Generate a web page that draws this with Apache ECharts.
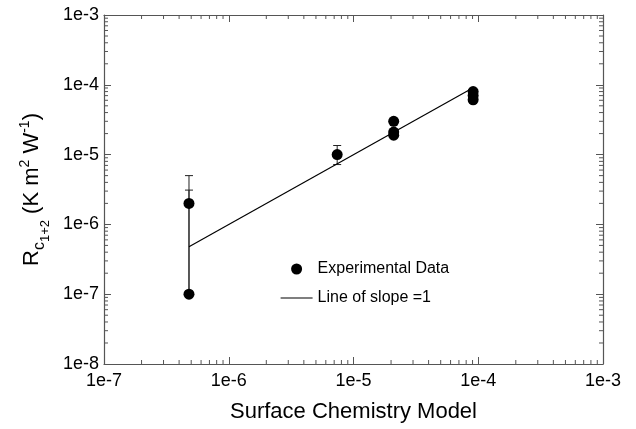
<!DOCTYPE html>
<html>
<head>
<meta charset="utf-8">
<script src="https://cdn.jsdelivr.net/npm/echarts@6/dist/echarts.min.js"></script>
<style>html,body{margin:0;padding:0;background:#fff;}#c{width:636px;height:429px;}</style>
</head>
<body>
<div id="c"></div>
<script>
// ---- data ----
const expX = [4.8e-7, 4.8e-7, 7.4e-6, 2.1e-5, 2.1e-5, 2.1e-5, 9.1e-5, 9.1e-5, 9.1e-5];
const expY = [2e-6, 1e-7, 1e-5, 3e-5, 2.1e-5, 1.9e-5, 8e-5, 7e-5, 6.1e-5];
const errX = [4.8e-7, 4.8e-7, 7.4e-6];
const errLow = [1e-7, 1e-7, 7.2e-6];
const errHigh = [5e-6, 3.1e-6, 1.35e-5];
const lineX = [4.8e-7, 9.1e-5];
const lineY = [4.8e-7, 9.1e-5];
const X_MIN = 1e-7, X_MAX = 1e-3, Y_MIN = 1e-8, Y_MAX = 1e-3;
const legendNames = ['Experimental Data', 'Line of slope =1'];

function minorTicks(lo, hi) {
  const out = [];
  for (let e = Math.round(Math.log10(lo)); e < Math.round(Math.log10(hi)); e++) {
    for (let m = 2; m <= 9; m++) out.push([m * Math.pow(10, e)]);
  }
  return out;
}
const FONT = '"Liberation Sans", Arial, sans-serif';
const AX = '#555';
const chart = echarts.init(document.getElementById('c'), null, {renderer: 'canvas'});
const fmt = v => '1e' + Math.round(Math.log10(v));
const baseAxis = {
  type: 'log', logBase: 10,
  axisLine: {show: true, lineStyle: {color: AX, width: 1.2}},
  axisTick: {show: true, inside: true, length: 7, lineStyle: {color: AX}},
  splitLine: {show: false},
  minorTick: {show: false}
};
const lw = 4;
chart.setOption({
  animation: false,
  backgroundColor: '#fff',
  grid: {left: 104, right: 33, top: 15, bottom: 65, containLabel: false},
  xAxis: [
    Object.assign({}, baseAxis, {
      min: X_MIN, max: X_MAX, position: 'bottom',
      axisLabel: {formatter: fmt, fontSize: 18, color: '#000', fontFamily: FONT, margin: 8},
      name: 'Surface Chemistry Model', nameLocation: 'middle', nameGap: 37,
      nameTextStyle: {fontSize: 22, color: '#000', fontFamily: FONT}
    }),
    Object.assign({}, baseAxis, {min: X_MIN, max: X_MAX, position: 'top', axisLabel: {show: false}})
  ],
  yAxis: [
    Object.assign({}, baseAxis, {
      min: Y_MIN, max: Y_MAX, position: 'left',
      axisLabel: {formatter: fmt, fontSize: 18, color: '#000', fontFamily: FONT, margin: 5},
      name: '{r|R}{c|c}{s|1+2}{n| (K m}{p|2}{n| W}{p|-1}{n|)}',
      nameLocation: 'middle', nameGap: 52,
      nameTextStyle: {
        color: '#000', fontFamily: FONT,
        rich: {
          r: {fontSize: 22, fontFamily: FONT, color: '#000', verticalAlign: 'bottom', padding: [0, 0, 9, 0]},
          n: {fontSize: 22, fontFamily: FONT, color: '#000', verticalAlign: 'bottom', padding: [0, 0, 9, 0]},
          c: {fontSize: 16, fontFamily: FONT, color: '#000', verticalAlign: 'bottom', padding: [0, 0, 4, 0]},
          s: {fontSize: 13, fontFamily: FONT, color: '#000', verticalAlign: 'bottom', padding: [0, 0, 0, 0]},
          p: {fontSize: 14, fontFamily: FONT, color: '#000', verticalAlign: 'bottom', padding: [0, 0, 20, 0]}
        }
      }
    }),
    Object.assign({}, baseAxis, {min: Y_MIN, max: Y_MAX, position: 'right', axisLabel: {show: false}})
  ],
  legend: {
    left: 275, top: 256, orient: 'vertical', itemGap: 13, itemWidth: 32, itemHeight: 11,
    textStyle: {fontSize: 16, color: '#000', fontFamily: FONT},
    data: [
      {name: legendNames[0], icon: 'circle'},
      {name: legendNames[1], itemStyle: {color: 'rgba(0,0,0,0)', borderColor: 'rgba(0,0,0,0)', borderWidth: 0},
       lineStyle: {color: '#000', width: 1.2}}
    ],
    selectedMode: false
  },
  series: [
    {
      type: 'custom', name: 'minorX', silent: true, z: 1,
      data: minorTicks(X_MIN, X_MAX),
      renderItem: (params, api) => {
        const v = api.value(0);
        const b = api.coord([v, Y_MIN]), t = api.coord([v, Y_MAX]);
        const st = {stroke: AX, lineWidth: 1};
        return {type: 'group', children: [
          {type: 'line', shape: {x1: b[0], y1: b[1], x2: b[0], y2: b[1] - lw}, style: st},
          {type: 'line', shape: {x1: t[0], y1: t[1], x2: t[0], y2: t[1] + lw}, style: st}
        ]};
      }
    },
    {
      type: 'custom', name: 'minorY', silent: true, z: 1,
      data: minorTicks(Y_MIN, Y_MAX),
      renderItem: (params, api) => {
        const v = api.value(0);
        const l = api.coord([X_MIN, v]), r = api.coord([X_MAX, v]);
        const st = {stroke: AX, lineWidth: 1};
        return {type: 'group', children: [
          {type: 'line', shape: {x1: l[0], y1: l[1], x2: l[0] + lw, y2: l[1]}, style: st},
          {type: 'line', shape: {x1: r[0], y1: r[1], x2: r[0] - lw, y2: r[1]}, style: st}
        ]};
      },
      encode: {x: -1, y: 0}
    },
    {
      type: 'custom', name: 'err', silent: true, z: 2,
      data: errX.map((x, i) => [x, errLow[i], errHigh[i]]),
      renderItem: (params, api) => {
        const x = api.value(0);
        const lo = api.coord([x, api.value(1)]), hi = api.coord([x, api.value(2)]);
        const st = {stroke: '#222', lineWidth: 1};
        const cw = 4;
        return {type: 'group', children: [
          {type: 'line', shape: {x1: lo[0], y1: lo[1], x2: hi[0], y2: hi[1]}, style: st},
          {type: 'line', shape: {x1: lo[0] - cw, y1: lo[1], x2: lo[0] + cw, y2: lo[1]}, style: st},
          {type: 'line', shape: {x1: hi[0] - cw, y1: hi[1], x2: hi[0] + cw, y2: hi[1]}, style: st}
        ]};
      }
    },
    {
      type: 'line', name: legendNames[1], z: 3,
      data: lineX.map((x, i) => [x, lineY[i]]),
      symbol: 'none', lineStyle: {color: '#000', width: 1.2}, itemStyle: {color: '#000'}
    },
    {
      type: 'scatter', name: legendNames[0], z: 4,
      data: expX.map((x, i) => [x, expY[i]]),
      symbol: 'circle', symbolSize: 11, itemStyle: {color: '#000', opacity: 1}
    }
  ]
});
</script>
</body>
</html>
